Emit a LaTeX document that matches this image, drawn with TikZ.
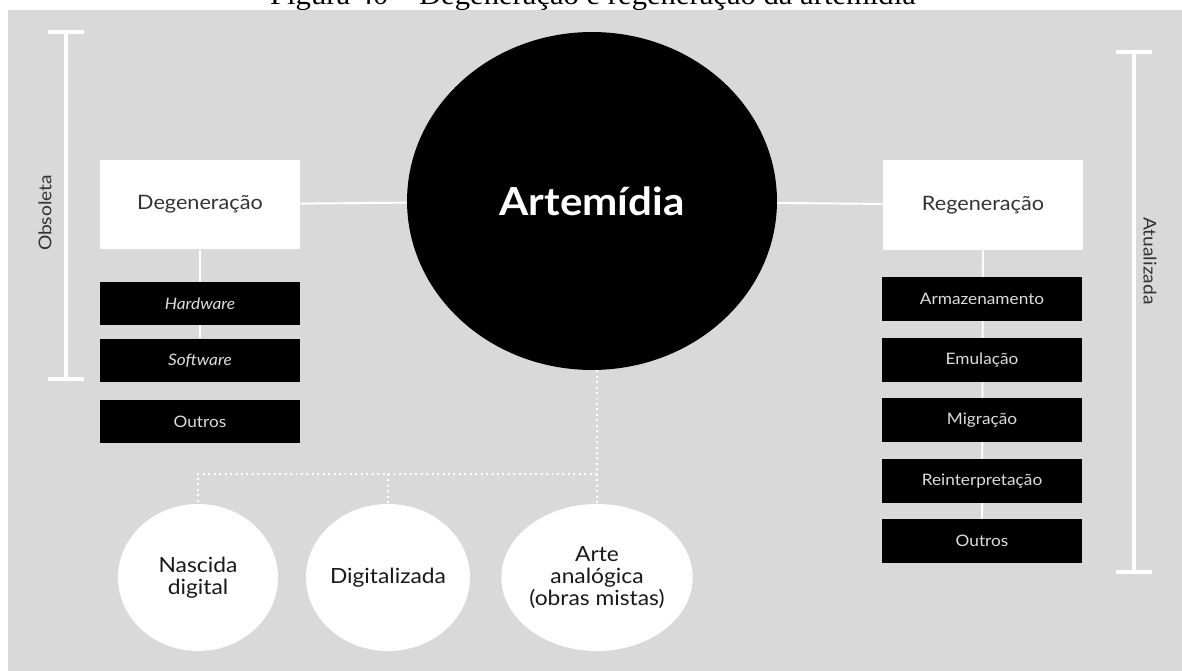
\documentclass[tikz,border=0pt]{standalone}
\usepackage{fontspec}
\setmainfont{Lato}[FakeStretch=1.09]
\newfontfamily\captionfont{Liberation Serif}[FakeStretch=1.09]
\usetikzlibrary{shapes.geometric,backgrounds}
\definecolor{panel}{HTML}{D9D9D9}
\definecolor{darktext}{HTML}{333333}
\definecolor{lighttext}{HTML}{DDDDDD}

\begin{document}
\begin{tikzpicture}[x=0.02cm, y=-0.02cm,
    link/.style={draw=white, line width=1.1pt},
    dots/.style={draw=white, line width=1.2pt, dash pattern=on 1.1pt off 2pt},
    bar/.style={draw=white, line width=2.3pt},
    whitebox/.style={fill=white, text=darktext, minimum width=4cm, minimum height=1.8cm, inner sep=0pt, font=\fontsize{11.3}{13}\selectfont},
    blackbox/.style={fill=black, text=lighttext, minimum width=4cm, minimum height=0.88cm, inner sep=0pt, font=\fontsize{9}{10}\selectfont},
    bigcircle/.style={ellipse, fill=black, text=white, minimum width=7.4cm, minimum height=6.76cm, inner sep=0pt, font=\bfseries\fontsize{22}{25}\selectfont},
    smallcircle/.style={ellipse, fill=white, text=black!90, minimum width=3.2cm, minimum height=2.94cm, inner sep=0pt, align=center, font=\fontsize{11.9}{12.4}\selectfont},
    sidetext/.style={text=darktext, inner sep=0pt, font=\fontsize{10}{12}\selectfont}]

        % frame
        \useasboundingbox (0,0) rectangle (1182,671);
        \node[anchor=base, inner sep=0pt, font=\captionfont\fontsize{16}{18}\selectfont] (caption) at (593,5) {Figura 40 – Degeneração e regeneração da artemídia};

        % centre
        \node[bigcircle] (art) at (592,201) {Artemídia};

        % left column
        \node[whitebox] (deg) at (200,204.5) {Degeneração};
        \node[blackbox] (hw) at (200,303.5) {\itshape Hardware};
        \node[blackbox] (sw) at (200,360.5) {\itshape Software};
        \node[blackbox] (outl) at (200,421.5) {Outros};

        % right column
        \node[whitebox] (reg) at (983,205) {Regeneração};
        \node[blackbox] (arm) at (982,299) {Armazenamento};
        \node[blackbox] (emu) at (982,360) {Emulação};
        \node[blackbox] (mig) at (982,420) {Migração};
        \node[blackbox] (rei) at (982,481) {Reinterpretação};
        \node[blackbox] (outr) at (982,541) {Outros};

        % bottom row
        \node[smallcircle] (nasc) at (198,577.5) {Nascida\\digital};
        \node[smallcircle] (digi) at (388,577.5) {Digitalizada};
        \node[smallcircle] (arte) at (597,577.5) {Arte\\analógica\\(obras mistas)};

        % side scales
        \coordinate (o1) at (66,32);
        \coordinate (o2) at (66,379);
        \coordinate (a1) at (1134,52);
        \coordinate (a2) at (1134,572);
        \draw[bar] (o1) -- (o2);
        \draw[bar] ([xshift=-0.36cm]o1) -- ([xshift=0.36cm]o1);
        \draw[bar] ([xshift=-0.36cm]o2) -- ([xshift=0.36cm]o2);
        \draw[bar] (a1) -- (a2);
        \draw[bar] ([xshift=-0.36cm]a1) -- ([xshift=0.36cm]a1);
        \draw[bar] ([xshift=-0.36cm]a2) -- ([xshift=0.36cm]a2);
        \node[sidetext, rotate=90] (obs) at (45,213) {Obsoleta};
        \node[sidetext, rotate=-90] (atu) at (1150,261) {Atualizada};

        \begin{scope}[on background layer]
            \fill[panel] (8,10) rectangle (1182,671);

            % links
            \draw[link] (deg) -- (art);
            \draw[link] (art) -- (reg);
            \draw[link] (deg.south) -- (sw.north);
            \draw[link] (reg.south) -- (outr.north);

            % dotted links
            \coordinate (hub) at (arte.north |- 0,474);
            \draw[dots] (arte.north |- art.south) -- (arte.north);
            \draw[dots] (hub) -| (nasc.north);
            \draw[dots] (digi.north |- hub) -- (digi.north);
        \end{scope}

\end{tikzpicture}
\end{document}
